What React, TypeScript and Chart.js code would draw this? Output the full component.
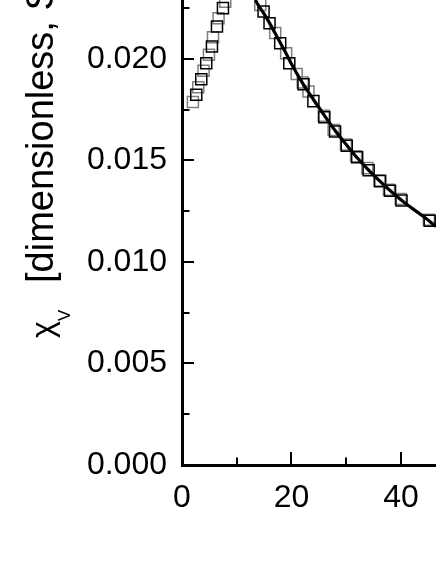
import React, { useEffect, useRef } from "react";
import { Chart, registerables } from "chart.js";

Chart.register(...registerables);

// ---- data ----
const blackT = [2.61, 3.52, 4.43, 5.47, 6.39, 7.48, 14.9, 15.99, 17.94, 19.6, 22.2, 24.0, 26.0, 27.97, 30.1, 32.0, 34.1, 36.2, 38.0, 40.1, 45.25];
const blackChi = [0.01823, 0.019, 0.01978, 0.02061, 0.02159, 0.0225, 0.02233, 0.02176, 0.02077, 0.01979, 0.01875, 0.01792, 0.01713, 0.01642, 0.01572, 0.01516, 0.01452, 0.01398, 0.01351, 0.01303, 0.01203];

const grayT = [1.99, 2.97, 3.94, 4.92, 5.66, 6.68, 7.9, 14.29, 17.03, 19.03, 20.95, 22.05, 23.1, 25.9, 27.7, 29.95, 31.8, 33.86, 36.06, 37.8, 39.95, 45.1];
const grayChi = [0.01788, 0.0186, 0.01942, 0.0202, 0.02107, 0.022, 0.02282, 0.02266, 0.02127, 0.02028, 0.01926, 0.01884, 0.01839, 0.0172, 0.0165, 0.01578, 0.0152, 0.01462, 0.01401, 0.01356, 0.0131, 0.01208];

const fitT = [13.4, 14, 15, 16, 17, 18, 19, 20, 22, 24, 26, 28, 30, 32, 34, 36, 38, 40, 42, 44, 46.4];
const fitChi = [0.0229, 0.02262, 0.02222, 0.02176, 0.02127, 0.02077, 0.02028, 0.01975, 0.01882, 0.018, 0.01722, 0.01646, 0.01578, 0.01513, 0.01455, 0.01402, 0.01352, 0.01306, 0.01265, 0.01226, 0.01174];

const xMajorTicks = [0, 20, 40];
const xMinorTicks = [10, 30];
const yMajorTicks = [0, 0.005, 0.01, 0.015, 0.02];
const yMinorTicks = [0.0025, 0.0075, 0.0125, 0.0175, 0.0225];

const xMin = 0;
const xMax = 46.4;
const yMin = 0;
const yMax = 0.0229;

const yTitleMain = "[dimensionless, SI]";
const yTitleSymbol = "χ";
const yTitleSub = "V";

const FONT = '"Liberation Sans", Arial, Helvetica, sans-serif';

const toXY = (xs: number[], ys: number[]) => xs.map((x, i) => ({ x, y: ys[i] }));

const innerTicksPlugin = {
  id: "innerTicks",
  afterDatasetsDraw(chart: any) {
    const { ctx, chartArea, scales } = chart;
    const xs = scales.x;
    const ys = scales.y;
    ctx.save();
    ctx.strokeStyle = "#000";
    ctx.lineWidth = 2;
    const drawY = (vals: number[], len: number) => {
      vals.forEach((v) => {
        const py = Math.round(ys.getPixelForValue(v));
        ctx.beginPath();
        ctx.moveTo(chartArea.left, py);
        ctx.lineTo(chartArea.left + len, py);
        ctx.stroke();
      });
    };
    const drawX = (vals: number[], len: number) => {
      vals.forEach((v) => {
        const px = Math.round(xs.getPixelForValue(v));
        ctx.beginPath();
        ctx.moveTo(px, chartArea.bottom);
        ctx.lineTo(px, chartArea.bottom - len);
        ctx.stroke();
      });
    };
    drawY(yMajorTicks, 12);
    drawY(yMinorTicks, 7.5);
    drawX(xMajorTicks, 13);
    drawX(xMinorTicks, 7.5);
    ctx.restore();
  },
};

const yTitlePlugin = {
  id: "yTitle",
  afterDraw(chart: any) {
    const { ctx } = chart;
    ctx.save();
    ctx.fillStyle = "#000";
    ctx.textBaseline = "alphabetic";
    ctx.textAlign = "left";
    ctx.translate(53, 338);
    ctx.rotate(-Math.PI / 2);
    ctx.font = `32px ${FONT}`;
    ctx.fillText(yTitleSymbol, 0, 0);
    ctx.font = `17px ${FONT}`;
    ctx.fillText(yTitleSub, 17, 17);
    ctx.font = `38px ${FONT}`;
    ctx.fillText(yTitleMain, 55, 0);
    ctx.restore();
  },
};

export default function App() {
  const canvasRef = useRef<HTMLCanvasElement | null>(null);

  useEffect(() => {
    const canvas = canvasRef.current;
    if (!canvas) return;
    const chart = new Chart(canvas, {
      type: "scatter",
      data: {
        datasets: [
          {
            label: "gray",
            data: toXY(grayT, grayChi),
            pointStyle: "rect",
            pointRadius: 7.8,
            pointBorderWidth: 1.5,
            pointBorderColor: "#7f7f7f",
            pointBackgroundColor: "rgba(0,0,0,0)",
            showLine: false,
            order: 3,
          },
          {
            label: "black",
            data: toXY(blackT, blackChi),
            pointStyle: "rect",
            pointRadius: 7.8,
            pointBorderWidth: 1.5,
            pointBorderColor: "#000",
            pointBackgroundColor: "rgba(0,0,0,0)",
            showLine: false,
            order: 2,
          },
          {
            label: "fit",
            data: toXY(fitT, fitChi),
            showLine: true,
            borderColor: "#000",
            borderWidth: 3.2,
            pointRadius: 0,
            cubicInterpolationMode: "monotone",
            order: 1,
          } as any,
        ],
      },
      options: {
        responsive: false,
        animation: false,
        layout: { padding: 0, autoPadding: false },
        plugins: {
          legend: { display: false },
          tooltip: { enabled: false },
          title: { display: false },
        },
        scales: {
          x: {
            type: "linear",
            min: xMin,
            max: xMax,
            grid: { display: false, drawTicks: false },
            border: { display: true, color: "#000", width: 3 },
            ticks: {
              stepSize: 20,
              includeBounds: false,
              color: "#000",
              font: { family: FONT, size: 32 },
              padding: 14,
              maxRotation: 0,
              callback: (v: any) => (xMajorTicks.includes(Number(v)) ? String(v) : ""),
            },
            afterFit: (s: any) => {
              s.height = 99;
              s.paddingLeft = 0;
              s.paddingRight = 0;
            },
          },
          y: {
            type: "linear",
            min: yMin,
            max: yMax,
            grid: { display: false, drawTicks: false },
            border: { display: true, color: "#000", width: 3 },
            ticks: {
              stepSize: 0.005,
              includeBounds: false,
              color: "#000",
              font: { family: FONT, size: 32 },
              padding: 15,
              callback: (v: any) => Number(v).toFixed(3),
            },
            afterFit: (s: any) => {
              s.width = 182;
              s.paddingTop = 0;
              s.paddingBottom = 0;
            },
          },
        },
      },
      plugins: [innerTicksPlugin, yTitlePlugin],
    });
    return () => chart.destroy();
  }, []);

  return (
    <div style={{ position: "absolute", left: 0, top: 0, width: 436, height: 564, background: "#fff" }}>
      <canvas ref={canvasRef} width={436} height={564} style={{ width: 436, height: 564, display: "block" }} />
    </div>
  );
}
